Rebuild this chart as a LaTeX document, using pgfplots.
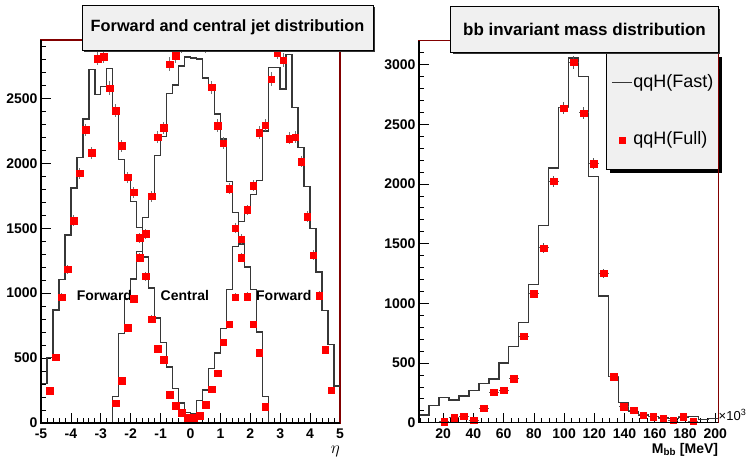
\documentclass[border=0pt]{standalone}
\usepackage{fontspec}
\setmainfont{Liberation Sans}
\usepackage{pgfplots}
\usepackage{pgfplotstable}
\pgfplotsset{compat=1.18}
\definecolor{framecol}{RGB}{130,0,0}
\definecolor{boxgray}{RGB}{240,240,240}
\definecolor{histcol}{RGB}{55,55,55}

\pgfplotstableread{
x fwd cen
-5.0 306 0
-4.8 506 0
-4.6 870 0
-4.4 1106 0
-4.2 1449 0
-4.0 1810 0
-3.8 2046 0
-3.6 2341 0
-3.4 2723 0
-3.2 2531 0
-3.0 2592 0
-2.8 2731 0
-2.6 2380 205
-2.4 2030 690
-2.2 1870 960
-2.0 1705 1110
-1.8 1505 1320
-1.6 1280 1585
-1.4 1040 1726
-1.2 810 2059
-1.0 620 2208
-0.8 430 2538
-0.6 265 2603
-0.4 155 2751
-0.2 80 2820
0.0 70 2810
0.2 175 2803
0.4 255 2656
0.6 420 2592
0.8 540 2380
1.0 730 2187
1.2 1026 1859
1.4 1358 1623
1.6 1550 1380
1.8 1660 1200
2.0 1760 1026
2.2 1870 700
2.4 2250 203
2.6 2738 0
2.8 2738 0
3.0 2572 0
3.2 2836 0
3.4 2431 0
3.6 2123 0
3.8 1821 0
4.0 1500 0
4.2 1163 0
4.4 865 0
4.6 605 0
4.8 286 0
5.0 286 0
}\etaHist

\pgfplotstableread{
x y
-4.7 247
-4.5 506
-4.3 969
-4.1 1184
-3.9 1559
-3.7 1923
-3.5 2259
-3.3 2082
-3.1 2808
-2.9 2823
-2.7 2580
-2.5 2405
-2.3 2136
-2.1 1892
-1.9 1777
-1.7 1428
-1.5 1130
-1.3 800
-1.1 574
-0.9 488
-0.7 216
-0.5 132
-0.3 80
-0.1 39
0.1 39
0.3 55
0.5 143
0.7 260
0.9 384
1.1 623
1.3 761
1.5 969
1.7 1415
1.9 1641
2.1 1828
2.3 2238
2.5 2295
2.7 2649
2.9 2854
3.1 2795
3.3 2192
3.5 2200
3.7 2013
3.9 1590
4.1 1293
4.3 982
4.5 566
4.7 254
}\fwdFull

\pgfplotstableread{
x y
-2.5 151
-2.3 325
-2.1 735
-1.9 956
-1.7 1275
-1.5 1457
-1.3 1746
-1.1 2200
-0.9 2274
-0.7 2764
-0.5 2828
-0.3 2900
-0.1 2930
0.1 2930
0.3 2910
0.5 2900
0.7 2585
0.9 2290
1.1 2154
1.3 1803
1.5 1500
1.7 1273
1.9 974
2.1 761
2.3 540
2.5 125
}\cenFull

\pgfplotstableread{
x y
4.0 65
10.6 143
17.2 211
23.8 191
30.4 225
37.0 270
43.6 326
50.2 365
56.8 500
63.4 640
70.0 837
76.6 1160
83.2 1651
89.8 2134
96.4 2642
103.0 3056
109.6 2902
116.2 2064
122.8 1062
129.4 388
136.0 169
142.6 93
149.2 65
155.8 51
162.4 40
169.0 34
175.6 45
182.2 51
188.8 28
195.4 34
202.0 34
}\mbbFast

\pgfplotstableread{
x y
20.5 8
27.1 42
33.7 56
40.3 22
46.9 121
53.5 256
60.1 272
66.7 368
73.3 725
79.9 1081
86.5 1464
93.1 2022
99.7 2637
106.3 3020
112.9 2595
119.5 2170
126.1 1250
132.7 385
139.3 135
145.9 104
152.5 65
159.1 51
165.7 37
172.3 22
178.9 51
185.5 14
}\mbbFull

\pgfplotsset{rootstyle/.style={
  scale only axis,
  anchor=south west,
  tick align=inside,
  tick pos=left,
  major tick length=10pt,
  minor tick length=5pt,
  every tick/.style={black, line width=0.7pt},
  axis line style={draw=framecol, line width=1.4pt},
  tick label style={font=\fontsize{14}{16}\selectfont\bfseries},
  xticklabel style={yshift=-2pt},
  scaled ticks=false,
  after end axis/.code={\draw[black, line width=1.1pt] (rel axis cs:0,1) -- (rel axis cs:0,0) -- (rel axis cs:1,0);},
}}

\begin{document}
\begin{tikzpicture}[x=1pt,y=1pt]
\path[use as bounding box] (0,0) rectangle (748,463);
% legend box of right panel (behind the axis)
\fill[black] (610,290) rectangle (722,406);
\filldraw[fill=boxgray, draw=black, line width=0.6pt] (606,294) rectangle (718,410);

\begin{axis}[rootstyle,
  at={(41pt,40pt)}, width=299pt, height=383pt,
  xmin=-5, xmax=5, ymin=0, ymax=2950,
  xtick={-5,-4,-3,-2,-1,0,1,2,3,4,5},
  xticklabels={-5,-4,-3,-2,-1,0,1,2,3,4,5},
  minor xtick={-4.8,-4.6,-4.4,-4.2,-3.8,-3.6,-3.4,-3.2,-2.8,-2.6,-2.4,-2.2,-1.8,-1.6,-1.4,-1.2,-0.8,-0.6,-0.4,-0.2,0.2,0.4,0.6,0.8,1.2,1.4,1.6,1.8,2.2,2.4,2.6,2.8,3.2,3.4,3.6,3.8,4.2,4.4,4.6,4.8},
  ytick={0,500,1000,1500,2000,2500},
  yticklabels={0,500,1000,1500,2000,2500},
  minor ytick={100,200,300,400,600,700,800,900,1100,1200,1300,1400,1600,1700,1800,1900,2100,2200,2300,2400,2600,2700,2800,2900},
  xlabel={$\eta$},
  xlabel style={at={(axis description cs:1,0)}, anchor=north east, yshift=-23pt, inner sep=0pt, font=\fontsize{16}{17}\selectfont},
]
\addplot[const plot, histcol, line width=1.4pt] table[x=x,y=fwd]{\etaHist};
\addplot[const plot, histcol, line width=1.4pt] table[x=x,y=cen]{\etaHist};
\addplot[only marks, mark=square*, mark size=3.3pt, mark options={draw=red, fill=red},
  error bars/.cd, y dir=both, y explicit, error mark=none,
  error bar style={black!55, line width=0.9pt}]
  table[x=x, y=y, y error expr=sqrt(\thisrow{y})]{\fwdFull};
\addplot[only marks, mark=square*, mark size=3.3pt, mark options={draw=red, fill=red},
  error bars/.cd, y dir=both, y explicit, error mark=none,
  error bar style={black!55, line width=0.9pt}]
  table[x=x, y=y, y error expr=sqrt(\thisrow{y})]{\cenFull};
\node[font=\fontsize{14}{16}\selectfont\bfseries] at (axis cs:-2.88,985) {Forward};
\node[font=\fontsize{14}{16}\selectfont\bfseries] at (axis cs:-0.19,985) {Central};
\node[font=\fontsize{14}{16}\selectfont\bfseries] at (axis cs:3.12,985) {Forward};
\end{axis}

\begin{axis}[rootstyle,
  at={(419pt,40.3pt)}, width=299.3pt, height=382pt,
  xmin=4, xmax=202, ymin=0, ymax=3200,
  xtick={20,40,60,80,100,120,140,160,180,200},
  xticklabels={20,40,60,80,100,120,140,160,180,200},
  minor xtick={5,10,15,25,30,35,45,50,55,65,70,75,85,90,95,105,110,115,125,130,135,145,150,155,165,170,175,185,190,195},
  ytick={0,500,1000,1500,2000,2500,3000},
  yticklabels={0,500,1000,1500,2000,2500,3000},
  minor ytick={100,200,300,400,600,700,800,900,1100,1200,1300,1400,1600,1700,1800,1900,2100,2200,2300,2400,2600,2700,2800,2900,3100},
  xlabel={\bfseries M\textsubscript{bb} [MeV]},
  xlabel style={at={(axis description cs:1,0)}, anchor=north east, yshift=-20pt, inner sep=0pt, font=\fontsize{14}{16}\selectfont},
  legend style={at={(rel axis cs:0.6415,0.9154)}, anchor=north west, draw=none, fill=none,
    inner sep=0pt, row sep=38pt,
    nodes={inner sep=1pt, text height=13pt, text depth=4pt, font=\fontsize{18}{20}\selectfont}},
  legend cell align=left,
]
\addplot[const plot, histcol, line width=1.4pt,
  legend image code/.code={\draw[histcol, line width=1.2pt] (0pt,0pt) -- (20pt,0pt);}]
  table[x=x,y=y]{\mbbFast};
\addlegendentry{qqH(Fast)}
\addplot[only marks, mark=square*, mark size=3.2pt, mark options={draw=red, fill=red},
  legend image code/.code={\fill[red] (7pt,-3pt) rectangle (13pt,3pt);},
  error bars/.cd, x dir=both, x fixed=3.3, y dir=both, y explicit, error mark=none,
  error bar style={black!65, line width=0.9pt}]
  table[x=x, y=y, y error expr=sqrt(\thisrow{y})]{\mbbFull};
\addlegendentry{qqH(Full)}
\end{axis}

% x10^3 exponent of the right x axis
\node[anchor=west, inner sep=0pt, font=\fontsize{13}{15}\selectfont] at (718.5,48) {×10\raisebox{5pt}{\fontsize{9}{10}\selectfont 3}};

% title boxes
\fill[black!80] (84,411) rectangle (375,456);
\filldraw[fill=boxgray, draw=black, line width=0.6pt] (82,413) rectangle (373,458);
\node[font=\fontsize{16.3}{18}\selectfont\bfseries] at (227.5,435.5) {Forward and central jet distribution};

\fill[black!80] (452.7,408.7) rectangle (720.3,454.3);
\filldraw[fill=boxgray, draw=black, line width=0.6pt] (450.7,410.7) rectangle (718.3,456.3);
\node[font=\fontsize{17}{19}\selectfont\bfseries] at (584.5,433.5) {bb invariant mass distribution};
\end{tikzpicture}
\end{document}
